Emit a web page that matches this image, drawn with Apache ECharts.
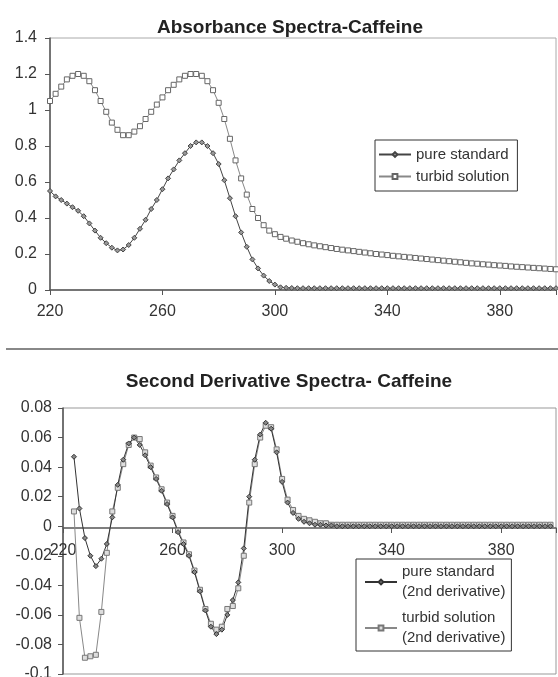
<!DOCTYPE html>
<html>
<head>
<meta charset="utf-8">
<script src="https://cdn.jsdelivr.net/npm/echarts@6/dist/echarts.min.js"></script>
<style>html,body{margin:0;padding:0;background:#fff}#c{width:558px;height:677px}</style>
</head>
<body>
<div id="c"></div>
<script>
const wavelengths = [220,222,224,226,228,230,232,234,236,238,240,242,244,246,248,250,252,254,256,258,260,262,264,266,268,270,272,274,276,278,280,282,284,286,288,290,292,294,296,298,300,302,304,306,308,310,312,314,316,318,320,322,324,326,328,330,332,334,336,338,340,342,344,346,348,350,352,354,356,358,360,362,364,366,368,370,372,374,376,378,380,382,384,386,388,390,392,394,396,398,400];

const pureAbs = [0.55,0.52,0.50,0.48,0.46,0.44,0.41,0.37,0.33,0.29,
  0.26,0.235,0.22,0.225,0.25,0.29,0.34,0.39,0.45,0.50,
  0.56,0.62,0.67,0.72,0.76,0.80,0.82,0.82,0.80,0.76,
  0.70,0.61,0.51,0.41,0.32,0.24,0.17,0.12,0.08,0.05,
  0.03,0.015,0.012,0.011,0.01,0.01,0.01,0.01,0.01,0.01,
  0.01,0.01,0.01,0.01,0.01,0.01,0.01,0.01,0.01,0.01,
  0.01,0.01,0.01,0.01,0.01,0.01,0.01,0.01,0.01,0.01,
  0.01,0.01,0.01,0.01,0.01,0.01,0.01,0.01,0.01,0.01,
  0.01,0.01,0.01,0.01,0.01,0.01,0.01,0.01,0.01,0.01,
  0.01];

const turbidAbs = [1.05,1.09,1.13,1.17,1.19,1.20,1.19,1.16,1.11,1.05,
  0.99,0.93,0.89,0.86,0.86,0.88,0.91,0.95,0.99,1.03,
  1.07,1.11,1.14,1.17,1.19,1.20,1.20,1.19,1.16,1.11,
  1.04,0.95,0.84,0.72,0.62,0.53,0.45,0.40,0.36,0.33,
  0.31,0.295,0.285,0.275,0.268,0.26,0.254,0.248,0.243,0.238,
  0.233,0.228,0.224,0.22,0.216,0.212,0.208,0.204,0.2,0.197,
  0.194,0.19,0.187,0.184,0.181,0.178,0.175,0.172,0.169,0.166,
  0.163,0.16,0.157,0.154,0.151,0.148,0.146,0.143,0.141,0.138,
  0.136,0.134,0.131,0.129,0.127,0.125,0.123,0.121,0.119,0.117,
  0.115];

const pureD2 = [null,null,0.047,0.012,-0.008,-0.02,-0.027,-0.022,-0.012,0.006,
  0.028,0.045,0.056,0.06,0.055,0.048,0.04,0.032,0.024,0.015,
  0.006,-0.004,-0.012,-0.02,-0.031,-0.044,-0.057,-0.068,-0.073,-0.07,
  -0.06,-0.05,-0.038,-0.015,0.02,0.045,0.062,0.07,0.066,0.05,
  0.03,0.016,0.009,0.005,0.003,0.002,0.001,0.001,0.0005,0.0005,
  0,0,0,0,0,0,0,0,0,0,
  0,0,0,0,0,0,0,0,0,0,
  0,0,0,0,0,0,0,0,0,0,
  0,0,0,0,0,0,0,0,0,0,
  null];

const turbidD2 = [null,null,0.01,-0.062,-0.089,-0.088,-0.087,-0.058,-0.018,0.01,
  0.026,0.042,0.055,0.06,0.059,0.05,0.041,0.033,0.025,0.016,
  0.007,-0.003,-0.011,-0.019,-0.03,-0.043,-0.056,-0.066,-0.07,-0.068,
  -0.056,-0.054,-0.042,-0.02,0.016,0.042,0.06,0.068,0.067,0.052,
  0.032,0.018,0.011,0.007,0.005,0.004,0.003,0.002,0.002,0.001,
  0.001,0.001,0.001,0.001,0.001,0.001,0.001,0.001,0.001,0.001,
  0.001,0.001,0.001,0.001,0.001,0.001,0.001,0.001,0.001,0.001,
  0.001,0.001,0.001,0.001,0.001,0.001,0.001,0.001,0.001,0.001,
  0.001,0.001,0.001,0.001,0.001,0.001,0.001,0.001,0.001,0.001,
  null];

const titles = ['Absorbance Spectra-Caffeine', 'Second Derivative Spectra- Caffeine'];
const absNames = ['pure standard', 'turbid solution'];
const derNames = ['pure standard\n(2nd derivative)', 'turbid solution\n(2nd derivative)'];

function pairs(ys){ return wavelengths.map((x,i)=>[x, ys[i]]); }

const FONT = 'Liberation Sans, Arial, sans-serif';
const TXT = '#333';

const chart = echarts.init(document.getElementById('c'), null, {renderer:'canvas'});

function xAx(gi, margin, offset){
  return {type:'value', gridIndex:gi, min:220, max:400, interval:40, position:'bottom', offset:offset,
    axisLine:{show:true, onZero:false, lineStyle:{color:'#555', width:1.5}},
    axisTick:{show:true, length:5, lineStyle:{color:'#555'}},
    splitLine:{show:false},
    axisLabel:{color:TXT, fontFamily:FONT, fontSize:16, margin:margin,
      formatter: v => v === 400 ? '' : String(v)}};
}
function yAx(gi, min, max, interval, margin){
  return {type:'value', gridIndex:gi, min:min, max:max, interval:interval,
    axisLine:{show:true, onZero:false, lineStyle:{color:'#555', width:1.5}},
    axisTick:{show:true, length:5, lineStyle:{color:'#555'}},
    splitLine:{show:false},
    axisLabel:{color:TXT, fontFamily:FONT, fontSize:16, margin:margin}};
}

const option = {
  animation:false,
  backgroundColor:'#fff',
  title:[
    {text:titles[0], left:285, top:13, textAlign:'center',
      textStyle:{fontFamily:FONT, fontSize:19, fontWeight:'bold', color:'#222'}},
    {text:titles[1], left:284, top:367, textAlign:'center',
      textStyle:{fontFamily:FONT, fontSize:19, fontWeight:'bold', color:'#222'}}
  ],
  grid:[
    {left:50, top:38, width:506, height:252, show:true, borderColor:'#aaa', borderWidth:1,
      containLabel:false, outerBoundsMode:'none'},
    {left:63, top:408, width:493, height:266, show:true, borderColor:'#999', borderWidth:1,
      containLabel:false, outerBoundsMode:'none'}
  ],
  xAxis:[xAx(0, 14, 0), xAx(1, 15, -146)],
  yAxis:[yAx(0, 0, 1.4, 0.2, 13), yAx(1, -0.1, 0.08, 0.02, 11)],
  legend:[
    {data:absNames, left:375, top:140, orient:'vertical', itemGap:7,
      itemWidth:32, itemHeight:6, padding:[7,8,7,3], borderColor:'#333', borderWidth:1,
      textStyle:{fontFamily:FONT, fontSize:15, color:TXT}},
    {data:derNames, left:356, top:559, orient:'vertical', itemGap:6,
      itemWidth:32, itemHeight:6, padding:[3,6,3,8], borderColor:'#333', borderWidth:1,
      textStyle:{fontFamily:FONT, fontSize:15, color:TXT, lineHeight:20}}
  ],
  graphic:[
    {type:'line', shape:{x1:6, y1:349, x2:558, y2:349}, style:{stroke:'#888', lineWidth:2}, silent:true}
  ],
  series:[
    {name:absNames[1], type:'line', xAxisIndex:0, yAxisIndex:0, data:pairs(turbidAbs),
      symbol:'rect', symbolSize:5, showAllSymbol:true,
      lineStyle:{color:'#888', width:1}, itemStyle:{color:'#fff', borderColor:'#666', borderWidth:1}},
    {name:absNames[0], type:'line', xAxisIndex:0, yAxisIndex:0, data:pairs(pureAbs),
      symbol:'diamond', symbolSize:5, showAllSymbol:true,
      lineStyle:{color:'#444', width:1}, itemStyle:{color:'#999', borderColor:'#444', borderWidth:1}},
    {name:derNames[1], type:'line', xAxisIndex:1, yAxisIndex:1, data:pairs(turbidD2),
      symbol:'rect', symbolSize:5, showAllSymbol:true, connectNulls:false,
      lineStyle:{color:'#888', width:1}, itemStyle:{color:'#ddd', borderColor:'#777', borderWidth:1}},
    {name:derNames[0], type:'line', xAxisIndex:1, yAxisIndex:1, data:pairs(pureD2),
      symbol:'diamond', symbolSize:5, showAllSymbol:true, connectNulls:false,
      lineStyle:{color:'#333', width:1}, itemStyle:{color:'#888', borderColor:'#333', borderWidth:1}}
  ]
};
chart.setOption(option);
</script>
</body>
</html>
